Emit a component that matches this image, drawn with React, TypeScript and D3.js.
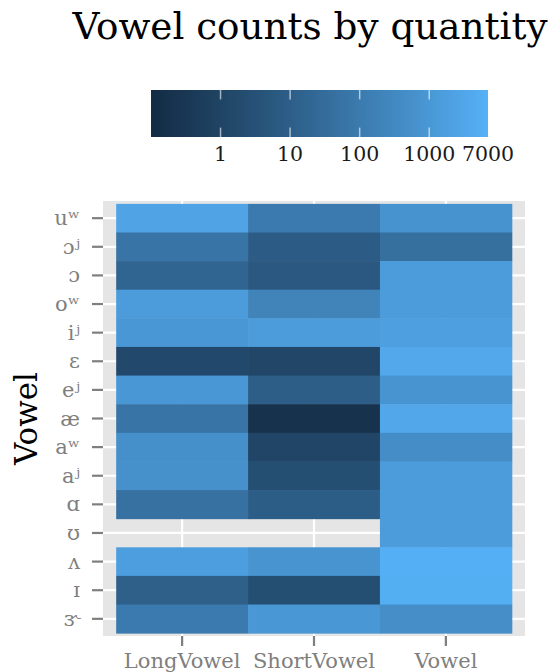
import React from "react";
import * as d3 from "d3";

const vowels = ["uʷ", "ɔʲ", "ɔ", "oʷ", "iʲ", "ɛ", "eʲ", "æ", "aʷ", "aʲ", "ɑ", "ʊ", "ʌ", "ɪ", "ɝ"];
const quantities = ["LongVowel", "ShortVowel", "Vowel"];
const longCounts: (number | null)[] = [2700, 58, 17, 1400, 970, 1.5, 970, 63, 520, 560, 45, null, 1700, 11, 100];
const shortCounts: (number | null)[] = [100, 8.4, 6, 210, 1400, 1.2, 10, 0.2, 1.1, 2.5, 9, null, 760, 2.5, 970];
const vowelCounts: (number | null)[] = [700, 42, 1400, 1400, 1800, 3600, 760, 3400, 440, 1400, 1400, 1400, 5800, 5400, 480];
const legendBreaks = [1, 10, 100, 1000, 7000];
const fillLimits = [0.1, 7000];

const W = 553;
const H = 672;
const FONT = "'DejaVu Serif', serif";
const panel = { left: 103, right: 525, top: 201, bottom: 636 };
const legendBox = { left: 151, right: 488, top: 90, bottom: 137 };

export default function App() {
  const series = [longCounts, shortCounts, vowelCounts];
  const x = d3.scaleBand<string>().domain(quantities).range([panel.left, panel.right]).paddingInner(0).paddingOuter(0.1);
  const y = d3.scaleBand<string>().domain(vowels).range([panel.top, panel.bottom]).paddingInner(0).paddingOuter(0.1);
  const logT = d3.scaleLog().domain(fillLimits).range([0, 1]);
  const interp = d3.interpolateLab("#132B43", "#56B1F7");
  const color = (v: number) => interp(Math.max(0, Math.min(1, logT(v))));
  const legendX = d3.scaleLog().domain(fillLimits).range([legendBox.left, legendBox.right]);
  const stops = d3.range(0, 1.0001, 0.02);
  const tickLen = (legendBox.bottom - legendBox.top) / 5;

  const cells: { q: string; v: string; val: number }[] = [];
  quantities.forEach((q, qi) => {
    vowels.forEach((v, vi) => {
      const val = series[qi][vi];
      if (val != null) cells.push({ q, v, val });
    });
  });

  return (
    <svg width={W} height={H} style={{ display: "block", position: "absolute", left: 0, top: 0 }} fontFamily={FONT}>
      <rect width={W} height={H} fill="#ffffff" />
      <text x={310} y={39} textAnchor="middle" fontSize={37.3} fill="#000">
        Vowel counts by quantity
      </text>
      <defs>
        <linearGradient id="lg" x1="0" x2="1" y1="0" y2="0">
          {stops.map((t, i) => (
            <stop key={i} offset={t} stopColor={interp(t)} />
          ))}
        </linearGradient>
      </defs>
      <rect x={legendBox.left} y={legendBox.top} width={legendBox.right - legendBox.left} height={legendBox.bottom - legendBox.top} fill="url(#lg)" />
      {legendBreaks.map((b) => (
        <g key={b}>
          {b < fillLimits[1] && (
            <>
              <line x1={legendX(b)} x2={legendX(b)} y1={legendBox.top} y2={legendBox.top + tickLen} stroke="#ffffff" strokeOpacity={0.6} strokeWidth={1.5} />
              <line x1={legendX(b)} x2={legendX(b)} y1={legendBox.bottom - tickLen} y2={legendBox.bottom} stroke="#ffffff" strokeOpacity={0.6} strokeWidth={1.5} />
            </>
          )}
          <text x={legendX(b)} y={161} textAnchor="middle" fontSize={20.5} fill="#1a1a1a">
            {b}
          </text>
        </g>
      ))}
      <rect x={panel.left} y={panel.top} width={panel.right - panel.left} height={panel.bottom - panel.top} fill="#E5E5E5" />
      {vowels.map((v) => (
        <line key={v} x1={panel.left} x2={panel.right} y1={y(v)! + y.bandwidth() / 2} y2={y(v)! + y.bandwidth() / 2} stroke="#fff" strokeWidth={2.2} />
      ))}
      {quantities.map((q) => (
        <line key={q} y1={panel.top} y2={panel.bottom} x1={x(q)! + x.bandwidth() / 2} x2={x(q)! + x.bandwidth() / 2} stroke="#fff" strokeWidth={2.2} />
      ))}
      {cells.map((c) => (
        <rect key={c.q + c.v} x={x(c.q)!} y={y(c.v)!} width={x.bandwidth() + 0.5} height={y.bandwidth() + 0.5} fill={color(c.val)} />
      ))}
      {vowels.map((v) => {
        const cy = y(v)! + y.bandwidth() / 2;
        return (
          <g key={v}>
            <line x1={panel.left - 11} x2={panel.left} y1={cy} y2={cy} stroke="#7f7f7f" strokeWidth={2.2} />
            <text x={80} y={cy + 7} textAnchor="end" fontSize={21} fill="#7f7f7f">
              {v}
            </text>
          </g>
        );
      })}
      {quantities.map((q) => {
        const cx = x(q)! + x.bandwidth() / 2;
        return (
          <g key={q}>
            <line x1={cx} x2={cx} y1={panel.bottom} y2={panel.bottom + 10} stroke="#7f7f7f" strokeWidth={2.2} />
            <text x={cx} y={668} textAnchor="middle" fontSize={21} fill="#7f7f7f">
              {q}
            </text>
          </g>
        );
      })}
      <text transform={`translate(37, ${(panel.top + panel.bottom) / 2}) rotate(-90)`} textAnchor="middle" fontSize={31} fill="#000">
        Vowel
      </text>
    </svg>
  );
}
